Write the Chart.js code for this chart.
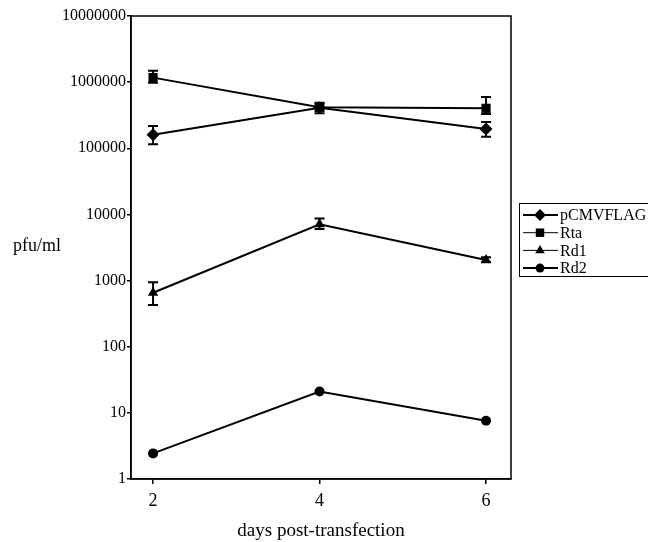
<!DOCTYPE html>
<html>
<head>
<meta charset="utf-8">
<script src="https://cdn.jsdelivr.net/npm/chart.js@4.4.0/dist/chart.umd.min.js"></script>
<style>
  body { margin: 0; background: #fff; }
  #chart { display: block; }
</style>
</head>
<body>
<canvas id="chart" width="648" height="542"></canvas>
<script>
const days = [2, 4, 6];
const yTicks = [1, 10, 100, 1000, 10000, 100000, 1000000, 10000000];

const pCMVFLAG = [160000, 410000, 196000];
const pCMVFLAGLow = [115000, 338000, 150000];
const pCMVFLAGHigh = [217000, 490000, 250000];

const Rta = [1170000, 416000, 402000];
const RtaLow = [980000, 370000, 330000];
const RtaHigh = [1490000, 470000, 596000];

const Rd1 = [655, 7080, 2050];
const Rd1Low = [427, 6000, 1900];
const Rd1High = [940, 8700, 2250];

const Rd2 = [2.44, 21, 7.6];

const serif = "'Liberation Serif', 'Times New Roman', serif";

function series(label, values, style, radius, low, high, legendWidth) {
  return {
    label: label,
    data: values.map((v, i) => ({ x: days[i], y: v })),
    borderColor: "#000",
    backgroundColor: "#000",
    borderWidth: 2,
    pointStyle: style,
    pointRadius: radius,
    pointBackgroundColor: "#000",
    pointBorderWidth: 0,
    low: low,
    high: high,
    legendWidth: legendWidth
  };
}

const errorBars = {
  id: "errorBars",
  afterDatasetsDraw(chart) {
    const ctx = chart.ctx;
    const xs = chart.scales.x, ys = chart.scales.y;
    ctx.save();
    ctx.strokeStyle = "#000";
    ctx.lineWidth = 2;
    chart.data.datasets.forEach(ds => {
      if (!ds.low) return;
      ds.low.forEach((lo, i) => {
        const x = xs.getPixelForValue(days[i]);
        const y1 = ys.getPixelForValue(lo);
        const y2 = ys.getPixelForValue(ds.high[i]);
        ctx.beginPath();
        ctx.moveTo(x, y1); ctx.lineTo(x, y2);
        ctx.moveTo(x - 5, y1); ctx.lineTo(x + 5, y1);
        ctx.moveTo(x - 5, y2); ctx.lineTo(x + 5, y2);
        ctx.stroke();
      });
    });
    ctx.restore();
  }
};

const frameAndLabels = {
  id: "frameAndLabels",
  afterDraw(chart) {
    const ctx = chart.ctx;
    const a = chart.chartArea;
    ctx.save();
    ctx.strokeStyle = "#000";
    ctx.lineWidth = 1.5;
    ctx.strokeRect(a.left, a.top, a.right - a.left, a.bottom - a.top);

    // horizontal y axis title
    ctx.fillStyle = "#000";
    ctx.font = "18px " + serif;
    ctx.textAlign = "left";
    ctx.textBaseline = "middle";
    ctx.fillText("pfu/ml", 13, 246);

    // boxed legend on the right
    const bx = a.right + 8, by = 203, bw = 140, bh = 73;
    ctx.lineWidth = 1;
    ctx.strokeRect(bx + 0.5, by + 0.5, bw, bh);
    ctx.font = "16px " + serif;
    chart.data.datasets.forEach((ds, i) => {
      const cy = by + 12 + i * 17.7;
      ctx.lineWidth = ds.legendWidth;
      ctx.beginPath();
      ctx.moveTo(bx + 4, cy); ctx.lineTo(bx + 39, cy);
      ctx.stroke();
      Chart.helpers.drawPoint(ctx, {
        pointStyle: ds.pointStyle,
        radius: ds.pointRadius - 0.5,
        rotation: 0,
        borderWidth: 0
      }, bx + 21, cy);
      ctx.fillText(ds.label, bx + 41, cy + 1);
    });
    ctx.restore();
  }
};

new Chart(document.getElementById("chart"), {
  type: "line",
  data: {
    datasets: [
      series("pCMVFLAG", pCMVFLAG, "rectRot", 6.5, pCMVFLAGLow, pCMVFLAGHigh, 2),
      series("Rta", Rta, "rect", 6.5, RtaLow, RtaHigh, 1),
      series("Rd1", Rd1, "triangle", 6, Rd1Low, Rd1High, 1),
      series("Rd2", Rd2, "circle", 5, null, null, 2)
    ]
  },
  options: {
    responsive: false,
    animation: false,
    layout: { padding: { top: 16, right: 137, bottom: 0, left: 0 } },
    plugins: { legend: { display: false }, tooltip: { enabled: false } },
    scales: {
      x: {
        type: "linear",
        min: 1.735,
        max: 6.3,
        afterBuildTicks: s => { s.ticks = days.map(v => ({ value: v })); },
        afterFit: s => { s.height = 63; },
        grid: { display: true, drawOnChartArea: false, tickLength: 5, color: "#000", lineWidth: 1.5 },
        border: { color: "#000", width: 1.5 },
        ticks: { color: "#000", font: { family: serif, size: 18 }, padding: 6 },
        title: {
          display: true,
          text: "days post-transfection",
          color: "#000",
          font: { family: serif, size: 19 },
          padding: { top: 6, bottom: 0 }
        }
      },
      y: {
        type: "logarithmic",
        min: 1,
        max: 10000000,
        afterBuildTicks: s => { s.ticks = yTicks.map(v => ({ value: v })); },
        afterFit: s => { s.width = 131; },
        grid: { display: true, drawOnChartArea: false, tickLength: 4, color: "#000", lineWidth: 1.5 },
        border: { color: "#000", width: 1.5 },
        ticks: {
          color: "#000",
          font: { family: serif, size: 16 },
          padding: 1,
          callback: v => String(v)
        }
      }
    }
  },
  plugins: [errorBars, frameAndLabels]
});
</script>
</body>
</html>
